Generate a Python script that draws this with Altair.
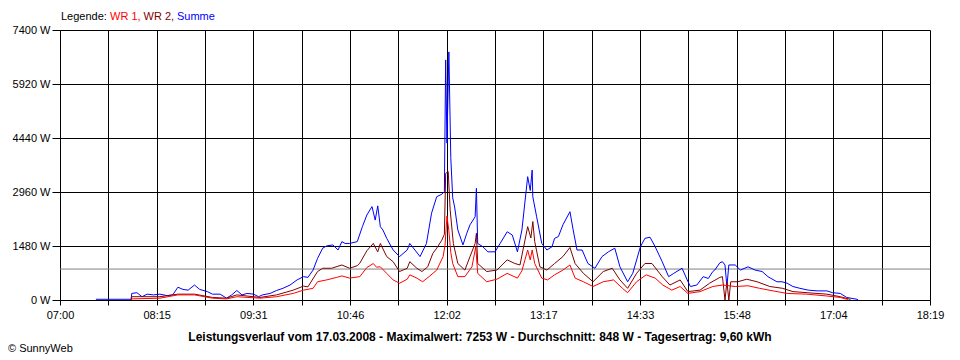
import altair as alt
import pandas as pd

# ---- data (time in minutes since midnight, power in W) ----
summe_t = [448, 457.5, 475.5, 476, 480, 484, 488, 493, 498, 503.5, 508, 512, 516, 520, 525, 529, 535, 539, 545, 550, 554,
           558, 562, 566, 571, 575, 578, 584, 589, 594, 599.5, 605, 610, 613.5, 617.5, 621, 625, 628, 633, 637, 640,
           642.5, 646, 652, 656, 659.5, 663.5, 666, 668, 670, 672, 675, 680, 685, 691, 693, 697, 701, 706, 710, 714,
           718, 720, 721, 722, 723.5, 725, 726.5, 728, 730.5, 734.5, 737.5, 740, 744, 745, 746, 750, 754, 759.5,
           763.5, 769, 773, 777, 780.5, 785, 787, 788.5, 789, 792, 796, 800, 804, 806, 809, 812.5, 818, 820.5, 823.5,
           827.5, 832, 837.5, 843, 848, 853, 857, 863, 867, 873, 876.5, 880.5, 884.5, 890, 895, 899, 905.5, 909.5,
           912, 917, 922, 926, 929.5, 931, 935, 937, 939, 940.5, 942, 947, 951, 957, 962.5, 968, 972.5, 979.5, 983.5,
           987.5, 992, 997.5, 1004, 1011, 1018.5, 1023, 1029, 1034, 1042, 1043]
summe_w = [20, 20, 20, 180, 200, 90, 160, 140, 160, 120, 140, 350, 290, 270, 410, 290, 230, 160, 160, 50, 140,
           260, 140, 180, 160, 90, 140, 180, 260, 320, 410, 550, 640, 620, 820, 1140, 1420, 1480, 1510, 1370, 1600,
           1550, 1550, 1600, 2010, 2330, 2560, 2190, 2580, 2010, 1920, 1690, 1370, 1190, 1370, 1550, 1370, 1190, 1550, 2380, 2830,
           2900, 2970, 6580, 4300, 6800, 3900, 2800, 2550, 1920, 1510, 1830, 2060, 2280, 3060, 1550, 1460, 1320, 1320,
           1550, 1870, 1780, 1320, 1920, 3380, 3000, 3560, 2830, 2280, 1550, 1370, 1460, 1690, 1740, 2060, 2420, 1920, 1370,
           1370, 1000, 870, 1190, 1320, 1420, 910, 500, 730, 1460, 1690, 1720, 1460, 1050, 640, 730, 870, 550,
           370, 410, 640, 590, 780, 820, 1020, 1050, 960, 370, 960, 960, 820, 910, 820, 780, 640, 500, 500,
           460, 370, 320, 270, 250, 250, 200, 180, 70, 20, 0]

wr2_t = [475.5, 476, 498, 512, 525, 539, 550, 558, 576, 589, 602, 610, 613.5, 621, 625, 632, 640, 646, 652, 654, 659.5,
         664.5, 668, 670, 675, 680, 685, 691, 693, 698.5, 702.5, 707, 711, 714, 718, 720, 721, 723, 724.5, 727, 730.5,
         736, 740, 744, 745, 746, 753, 761, 769, 775, 779, 785, 787.5, 789, 790.5, 794.5, 800, 806, 812.5, 818, 822,
         828.5, 836, 844, 851, 857, 863, 870, 876.5, 882, 890, 896, 904, 910, 919.5, 927, 935, 937, 939, 940.5,
         942, 943.5, 949, 956, 964, 974, 984, 992, 1003, 1018.5, 1029, 1036.5, 1037]
wr2_w = [0, 90, 90, 160, 160, 70, 50, 140, 70, 140, 270, 380, 360, 780, 870, 870, 960, 870, 940, 1010, 1350,
         1550, 1320, 1550, 1190, 1050, 780, 870, 1050, 870, 780, 910, 1280, 1420, 1640, 1800, 3470, 3520, 2470, 1550, 1000,
         820, 1190, 1550, 1830, 1000, 780, 820, 1100, 1000, 960, 2010, 1700, 2150, 1600, 910, 820, 1000, 1190, 1440, 1000,
         730, 500, 780, 870, 550, 320, 730, 1000, 1000, 640, 410, 550, 230, 270, 460, 620, 640, 0, 500,
         0, 500, 500, 570, 500, 370, 320, 230, 200, 160, 90, 20, 0]

wr1_t = [475.5, 476, 498, 512, 525, 539, 550, 558, 576, 589, 602, 610, 617.5, 621, 628, 636, 640, 646, 654, 659.5, 664.5,
         667, 670, 675, 680, 685, 691, 693, 698.5, 703, 708, 714, 719, 720.5, 722, 723.5, 725, 726.5, 730.5, 736, 741.5,
         744.5, 746, 753, 761, 769, 777, 780.5, 785, 787, 788.5, 790.5, 796, 800.5, 806, 812.5, 818, 822, 828.5, 836,
         844, 852, 859, 863, 870, 877.5, 884.5, 890.5, 897.5, 904, 910, 919.5, 929.5, 937, 947, 957, 966, 976.5,
         987.5, 1003, 1018.5, 1029, 1034, 1035]
wr1_w = [0, 30, 50, 140, 140, 50, 30, 90, 50, 90, 180, 270, 320, 500, 550, 620, 660, 600, 640, 890, 1000,
         900, 910, 730, 550, 460, 570, 690, 600, 500, 640, 820, 1190, 1500, 2300, 1900, 1300, 1000, 640, 640, 910,
         1460, 730, 500, 570, 730, 600, 800, 1370, 1100, 1370, 1000, 600, 550, 690, 820, 960, 600, 500, 370,
         500, 550, 320, 200, 500, 690, 600, 410, 270, 370, 180, 230, 370, 410, 370, 390, 320, 250,
         180, 160, 110, 70, 20, 0]

average_w = 848
time_labels = ["07:00", "08:15", "09:31", "10:46", "12:02", "13:17", "14:33", "15:48", "17:04", "18:19"]
y_ticks = [0, 1480, 2960, 4440, 5920, 7400]
t_start, t_end = 420, 1099

# ---- build chart ----
step = (t_end - t_start) / 18
tick_vals = [t_start + i * step for i in range(19)]
lab_arr = []
for i in range(19):
    lab_arr.append("'" + time_labels[i // 2] + "'" if i % 2 == 0 else "''")
label_expr = "[" + ",".join(lab_arr) + "][round((datum.value-%d)/%f)]" % (t_start, step)

FONT = "Liberation Sans"

x_enc = alt.X("t:Q",
              scale=alt.Scale(domain=[t_start, t_end], nice=False, zero=False),
              axis=alt.Axis(values=tick_vals, labelExpr=label_expr, title=None, grid=True,
                            gridColor="black", gridOpacity=1, gridWidth=1,
                            domainColor="black", tickColor="black", tickSize=5,
                            labelFont=FONT, labelFontSize=11, labelColor="black",
                            labelPadding=4, labelOverlap=False, labelFlush=False))
y_enc = alt.Y("w:Q",
              scale=alt.Scale(domain=[0, 7400], nice=False, zero=True),
              axis=alt.Axis(values=y_ticks, labelExpr="datum.value + ' W'", title=None, grid=True,
                            gridColor="black", gridOpacity=1, gridWidth=1,
                            domainColor="black", tickColor="black", tickSize=8,
                            labelFont=FONT, labelFontSize=11, labelColor="black",
                            labelPadding=2, labelOverlap=False, labelFlush=False))


def line(t, w, color):
    df = pd.DataFrame({"t": t, "w": w})
    return alt.Chart(df).mark_line(color=color, strokeWidth=1, interpolate="linear").encode(x=x_enc, y=y_enc)


avg = alt.Chart(pd.DataFrame({"w": [average_w]})).mark_rule(color="#808080", strokeWidth=1).encode(y=y_enc)


def label(text, x, y, color="black", bold=False, size=11):
    return alt.Chart(pd.DataFrame({"a": [0]})).mark_text(
        text=text, align="left", baseline="middle", font=FONT, fontSize=size,
        fontWeight="bold" if bold else "normal", color=color
    ).encode(x=alt.value(x), y=alt.value(y))


title_txt = ("Leistungsverlauf vom 17.03.2008 - Maximalwert: 7253 W - Durchschnitt: 848 W - "
             "Tagesertrag: 9,60 kWh")

title = alt.Chart(pd.DataFrame({"a": [0]})).mark_text(
    text=title_txt, align="center", baseline="middle", font=FONT, fontSize=12,
    fontWeight="bold", color="black"
).encode(x=alt.value(420), y=alt.value(307))

chart = alt.layer(
    avg,
    line(summe_t, summe_w, "#0000ff"),
    line(wr2_t, wr2_w, "#800000"),
    line(wr1_t, wr1_w, "#ff0000"),
    label("Legende:", 1, -13),
    label("WR 1,", 50, -13, "#ff0000"),
    label("WR 2,", 83.5, -13, "#800000"),
    label("Summe", 117, -13, "#0000ff"),
    title,
    label("© SunnyWeb", -52, 319, size=11),
).properties(
    width=870, height=270,
    autosize=alt.AutoSizeParams(type="none"),
    padding={"left": 52, "top": 22, "right": 20, "bottom": 54},
    background="white",
).configure_view(stroke=None)

chart.save("out.html", embed_options={"renderer": "svg", "actions": False})
